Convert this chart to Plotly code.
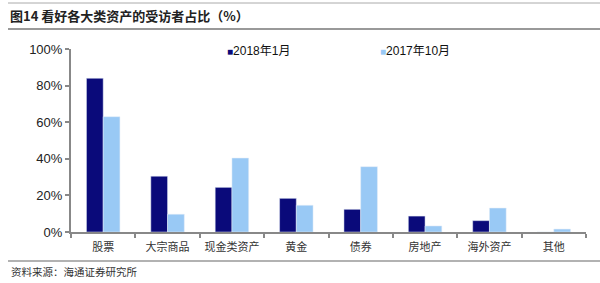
import plotly.graph_objects as go

categories = ["股票", "大宗商品", "现金类资产", "黄金", "债券", "房地产", "海外资产", "其他"]
jan2018 = [84, 30.5, 24.4, 18.4, 12.4, 8.7, 6.2, 0]
oct2017 = [63, 9.7, 40.4, 14.6, 35.7, 3.3, 13.1, 1.6]
series_names = ["2018年1月", "2017年10月"]
colors = ["#0a0a7a", "#99c9f5"]
yticks = [0, 20, 40, 60, 80, 100]
yticklabels = ["0%", "20%", "40%", "60%", "80%", "100%"]

fig = go.Figure()
fig.add_trace(go.Bar(x=categories, y=jan2018, name=series_names[0], marker_color=colors[0]))
fig.add_trace(go.Bar(x=categories, y=oct2017, name=series_names[1], marker_color=colors[1]))

W = 515.0
H = 183.0
fig.update_layout(
    width=600, height=283,
    margin=dict(l=71, r=14, t=49, b=51, autoexpand=False),
    paper_bgcolor="white", plot_bgcolor="white",
    barmode="group", bargap=0.48, bargroupgap=0,
    showlegend=False,
    font=dict(family="Arial, Liberation Sans, Noto Sans CJK SC", size=12, color="#111"),
)
fig.update_yaxes(range=[0, 100], tickvals=yticks, ticktext=yticklabels, automargin=False,
                 showgrid=False, showline=True, linecolor="#888", linewidth=2,
                 ticks="outside", ticklen=4, tickcolor="#888", tickwidth=1.5,
                 tickfont=dict(size=13, color="#222"), zeroline=False)
fig.update_xaxes(showgrid=False, showline=True, linecolor="#888", linewidth=2, automargin=False,
                 ticks="outside", tickson="boundaries", ticklen=4, tickcolor="#888", tickwidth=1.5,
                 tickangle=0, ticklabelstandoff=4,
                 tickfont=dict(family="Noto Sans CJK SC", size=11, color="#333"))

# legend drawn as annotations
leg_x = [225, 378]
for name, col, lx in zip(series_names, colors, leg_x):
    fig.add_annotation(text=f"<span style='color:{col};font-size:10px'>■</span>{name}", xref="paper", yref="paper",
                       x=(lx - 71) / W, y=1 + (49 - 51) / H, xanchor="left", yanchor="middle",
                       showarrow=False,
                       font=dict(family="Arial, Liberation Sans, Noto Sans CJK SC", size=12, color="#111"))

fig.add_annotation(text="<b>图14 看好各大类资产的受访者占比（%）</b>", xref="paper", yref="paper",
                   x=(8 - 71) / W, y=1 + (49 - 15) / H, xanchor="left", yanchor="middle", showarrow=False,
                   font=dict(family="Noto Sans CJK SC", size=13, color="#222"))
fig.add_annotation(text="资料来源：海通证券研究所", xref="paper", yref="paper",
                   x=(9 - 71) / W, y=-(271 - 232) / H, xanchor="left", yanchor="middle", showarrow=False,
                   font=dict(family="Noto Sans CJK SC", size=10.5, color="#333"))
# header/footer rules
for yy, col, wd in [(3, "#aaa", 1), (29, "#999", 2), (261, "#999", 1.5)]:
    fig.add_shape(type="line", xref="paper", yref="paper", x0=(8 - 71) / W, x1=1 + 14 / W,
                  y0=1 + (49 - yy) / H, y1=1 + (49 - yy) / H, line=dict(color=col, width=wd))

fig.write_html("out.html")
